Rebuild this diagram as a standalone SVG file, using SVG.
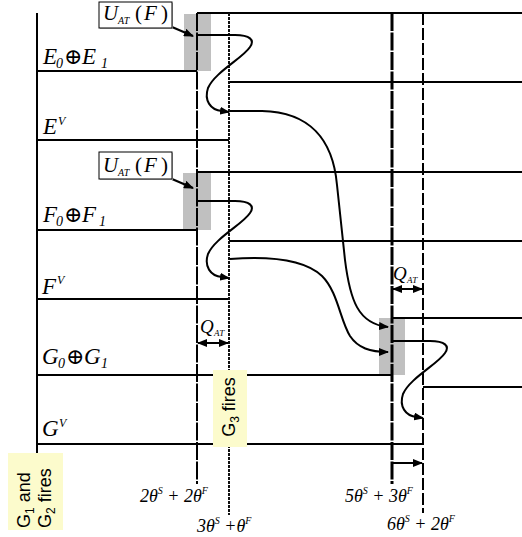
<svg xmlns="http://www.w3.org/2000/svg" width="522" height="537" viewBox="0 0 522 537">
<defs>
<marker id="ah" markerUnits="userSpaceOnUse" markerWidth="10" markerHeight="8" refX="9" refY="4" orient="auto-start-reverse">
<path d="M0,0 L10,4 L0,8 z" fill="#000"/>
</marker>
</defs>
<style>
.ln{stroke:#000;stroke-width:2;fill:none}
.v1{stroke:#000;stroke-width:2;stroke-dasharray:18 1.5;fill:none}
.v2{stroke:#111;stroke-width:2;stroke-dasharray:3 1;fill:none}
.v3{stroke:#000;stroke-width:3;stroke-dasharray:18 1.5;fill:none}
.v4{stroke:#000;stroke-width:2;stroke-dasharray:12 3;fill:none}
.cv{stroke:#000;stroke-width:2;fill:none}
.gr{fill:#c0c0c0}
.yl{fill:#fcfbcc}
.it{font-family:"Liberation Serif","DejaVu Serif",serif;font-style:italic;fill:#000}
.sf{font-family:"Liberation Sans",Arial,sans-serif;fill:#000}
.bx{fill:#fff;stroke:#000;stroke-width:1}
</style>
<rect width="522" height="537" fill="#fff"/>

<g id="shading">
<rect class="gr" x="184" y="14" width="27" height="57"/>
<rect class="gr" x="183" y="173" width="28" height="57"/>
<rect class="gr" x="379" y="318" width="26" height="57"/>
</g>

<g id="grid">
<line class="ln" x1="197" y1="13" x2="522" y2="13"/>
<line class="ln" x1="37" y1="71" x2="197" y2="71"/>
<line class="ln" x1="229" y1="82" x2="522" y2="82"/>
<line class="ln" x1="37" y1="140" x2="229" y2="140"/>
<line class="ln" x1="197" y1="172" x2="522" y2="172"/>
<line class="ln" x1="37" y1="230" x2="197" y2="230"/>
<line class="ln" x1="229" y1="241" x2="522" y2="241"/>
<line class="ln" x1="37" y1="299" x2="229" y2="299"/>
<line class="ln" x1="392" y1="318" x2="522" y2="318"/>
<line class="ln" x1="37" y1="375" x2="392" y2="375"/>
<line class="ln" x1="423" y1="387" x2="522" y2="387"/>
<line class="ln" x1="37" y1="444" x2="423" y2="444"/>
<line class="ln" x1="37" y1="13" x2="37" y2="453"/>
<line class="v1" x1="197" y1="13" x2="197" y2="484"/>
<line class="v2" x1="229" y1="13" x2="229" y2="515"/>
<line class="v3" x1="392" y1="13" x2="392" y2="484"/>
<line class="v4" x1="423" y1="13" x2="423" y2="513"/>
</g>

<g id="connectors">
<path class="cv" marker-end="url(#ah)" d="M197,35 L235,35 C250,35 255,40 250,47 C243,58 215,72 208,88 C204,100 210,110 222,111 L229,112"/>
<path class="cv" marker-end="url(#ah)" d="M197,201 L235,201 C250,201 255,206 250,213 C243,224 215,238 208,254 C204,266 210,276 222,277 L229,278"/>
<path class="cv" marker-end="url(#ah)" d="M392,341 L430,341 C445,341 450,346 445,353 C438,364 410,378 403,394 C399,406 405,416 417,417 L423,418"/>
<path class="cv" marker-end="url(#ah)" d="M230,111 L262,111 C310,112 333,140 337,185 L345,260 C350,300 358,324 388,327"/>
<path class="cv" marker-end="url(#ah)" d="M230,259 C270,256 305,260 322,276 C338,292 340,320 350,336 C358,348 370,352 388,352"/>
<line class="cv" marker-end="url(#ah)" x1="172" y1="27" x2="193" y2="36"/>
<line class="cv" marker-end="url(#ah)" x1="172" y1="179" x2="193" y2="188"/>
<line class="cv" marker-start="url(#ah)" marker-end="url(#ah)" x1="198" y1="343" x2="228" y2="343"/>
<line class="cv" marker-start="url(#ah)" marker-end="url(#ah)" x1="393" y1="289" x2="422" y2="289"/>
<line class="cv" marker-end="url(#ah)" x1="393" y1="463" x2="422" y2="463"/>
</g>

<g id="label-uat-e">
<rect x="100" y="3" width="73" height="26" fill="#bbb"/>
<rect class="bx" x="99" y="2" width="73" height="26"/>
<text class="it" font-size="21"><tspan x="103" y="20">U</tspan><tspan x="118" y="24" font-size="10">AT</tspan><tspan x="135" y="20" font-style="normal">(</tspan><tspan x="144" y="20">F</tspan><tspan x="161" y="20" font-style="normal">)</tspan></text>
</g>
<g id="label-uat-f">
<rect x="100" y="153" width="73" height="27" fill="#bbb"/>
<rect class="bx" x="99" y="152" width="73" height="27"/>
<text class="it" font-size="21"><tspan x="103" y="172">U</tspan><tspan x="118" y="176" font-size="10">AT</tspan><tspan x="135" y="172" font-style="normal">(</tspan><tspan x="144" y="172">F</tspan><tspan x="161" y="172" font-style="normal">)</tspan></text>
</g>

<g id="row-labels">
<text class="it" font-size="23"><tspan x="43" y="64">E</tspan><tspan x="56" y="68" font-size="14">0</tspan><tspan x="64" y="64" font-style="normal" font-size="22">⊕</tspan><tspan x="82" y="64">E</tspan><tspan x="101" y="68" font-size="14">1</tspan></text>
<text class="it" font-size="23"><tspan x="43" y="134">E</tspan><tspan x="58" y="125" font-size="12">V</tspan></text>
<text class="it" font-size="23"><tspan x="43" y="222">F</tspan><tspan x="56" y="226" font-size="14">0</tspan><tspan x="64" y="222" font-style="normal" font-size="22">⊕</tspan><tspan x="82" y="222">F</tspan><tspan x="99" y="226" font-size="14">1</tspan></text>
<text class="it" font-size="23"><tspan x="42" y="294">F</tspan><tspan x="57" y="284" font-size="12">V</tspan></text>
<text class="it" font-size="23"><tspan x="42" y="364">G</tspan><tspan x="58" y="368" font-size="14">0</tspan><tspan x="66" y="364" font-style="normal" font-size="22">⊕</tspan><tspan x="84" y="364">G</tspan><tspan x="101" y="368" font-size="14">1</tspan></text>
<text class="it" font-size="23"><tspan x="42" y="436">G</tspan><tspan x="59" y="427" font-size="12">V</tspan></text>
</g>

<g id="qat-labels">
<text class="it" font-size="19"><tspan x="200" y="333">Q</tspan><tspan x="214" y="336" font-size="9">AT</tspan></text>
<text class="it" font-size="19"><tspan x="393" y="280">Q</tspan><tspan x="407" y="283" font-size="9">AT</tspan></text>
</g>

<g id="time-labels">
<text class="it" font-size="18"><tspan x="140" y="502">2θ</tspan><tspan font-size="10" dy="-8">S</tspan><tspan dy="8"> + 2θ</tspan><tspan font-size="10" dy="-8">F</tspan></text>
<text class="it" font-size="18"><tspan x="197" y="532">3θ</tspan><tspan font-size="10" dy="-8">S</tspan><tspan dy="8"> +θ</tspan><tspan font-size="10" dy="-8">F</tspan></text>
<text class="it" font-size="18"><tspan x="345" y="502">5θ</tspan><tspan font-size="10" dy="-8">S</tspan><tspan dy="8"> + 3θ</tspan><tspan font-size="10" dy="-8">F</tspan></text>
<text class="it" font-size="18"><tspan x="387" y="530">6θ</tspan><tspan font-size="10" dy="-8">S</tspan><tspan dy="8"> + 2θ</tspan><tspan font-size="10" dy="-8">F</tspan></text>
</g>

<g id="g3-fires">
<rect class="yl" x="213" y="370" width="34" height="77"/>
<text class="sf" font-size="18" text-anchor="middle" transform="translate(235,407) rotate(-90)">G<tspan font-size="12" dy="4">3</tspan><tspan dy="-4"> fires</tspan></text>
</g>

<g id="g1g2-fires">
<rect class="yl" x="8" y="453" width="55" height="77"/>
<text class="sf" font-size="18" transform="translate(30,528) rotate(-90)">G<tspan font-size="12" dy="4">1</tspan><tspan dy="-4"> and</tspan></text>
<text class="sf" font-size="18" transform="translate(51,528) rotate(-90)">G<tspan font-size="12" dy="4">2</tspan><tspan dy="-4"> fires</tspan></text>
</g>
</svg>
